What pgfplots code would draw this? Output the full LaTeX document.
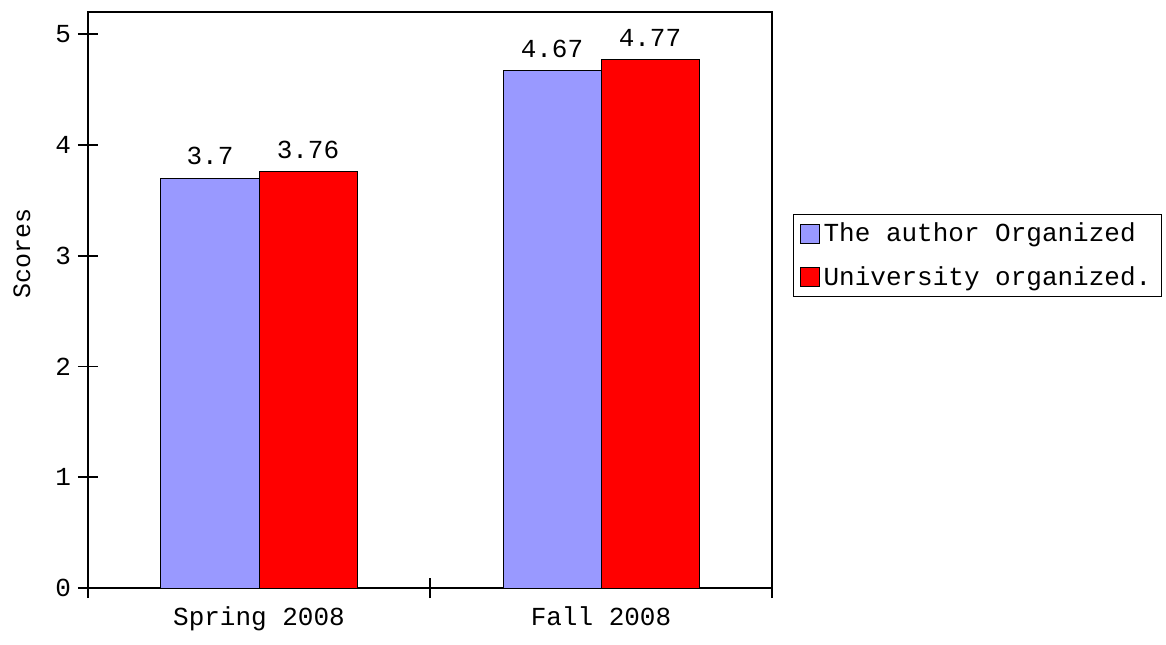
\documentclass[border=0pt]{standalone}
\usepackage{fontspec}
\setmainfont{Liberation Mono}
\usepackage{pgfplots}
\pgfplotsset{compat=1.18}
\definecolor{barblue}{HTML}{9999FF}
\definecolor{barred}{HTML}{FF0000}
\begin{document}
\begin{tikzpicture}
\path[use as bounding box] (0,0) rectangle (583pt,322pt);
\begin{axis}[
  at={(44pt,28pt)}, anchor=south west,
  scale only axis, width=342pt, height=288pt,
  xmin=0, xmax=2, ymin=0, ymax=5.2,
  ybar=0pt, bar width=49pt,
  axis line style={line width=0.8pt},
  tick style={line width=0.8pt, black},
  xtick pos=bottom, ytick pos=left,
  tick align=center, major tick length=10pt,
  xtick={0,1,2}, xticklabels={},
  extra x ticks={0.5,1.5},
  extra x tick labels={Spring 2008, Fall 2008},
  extra x tick style={major tick length=0pt, xticklabel style={yshift=-6pt}},
  ytick={0,1,2,3,4,5},
  /pgf/number format/assume math mode=true,
  tick label style={font=\fontsize{13pt}{15pt}\selectfont},
  ylabel={Scores},
  every axis y label/.style={at={(rel axis cs:0,0.58)}, xshift=-33pt, rotate=90, anchor=center, font=\fontsize{12.5pt}{15pt}\selectfont},
  nodes near coords,
  every node near coord/.append style={font=\fontsize{13pt}{15pt}\selectfont, yshift=3pt},
  legend style={at={(1,1)}, anchor=north west, xshift=10.5pt, yshift=-101pt,
    draw=black, line width=0.6pt, font=\fontsize{13pt}{15pt}\selectfont,
    inner xsep=3pt, inner ysep=2pt, row sep=7pt,
    /tikz/every even column/.append style={column sep=4pt}},
  legend cell align=left,
  legend image code/.code={\draw[#1, draw=black, line width=0.5pt] (0pt,-4.75pt) rectangle (9.5pt,4.75pt);},
]
\addplot[fill=barblue, draw=black, line width=0.5pt] coordinates {(0.5,3.7) (1.5,4.67)};
\addplot[fill=barred, draw=black, line width=0.5pt] coordinates {(0.5,3.76) (1.5,4.77)};
\legend{The author Organized, University organized.}
\end{axis}
\end{tikzpicture}
\end{document}
